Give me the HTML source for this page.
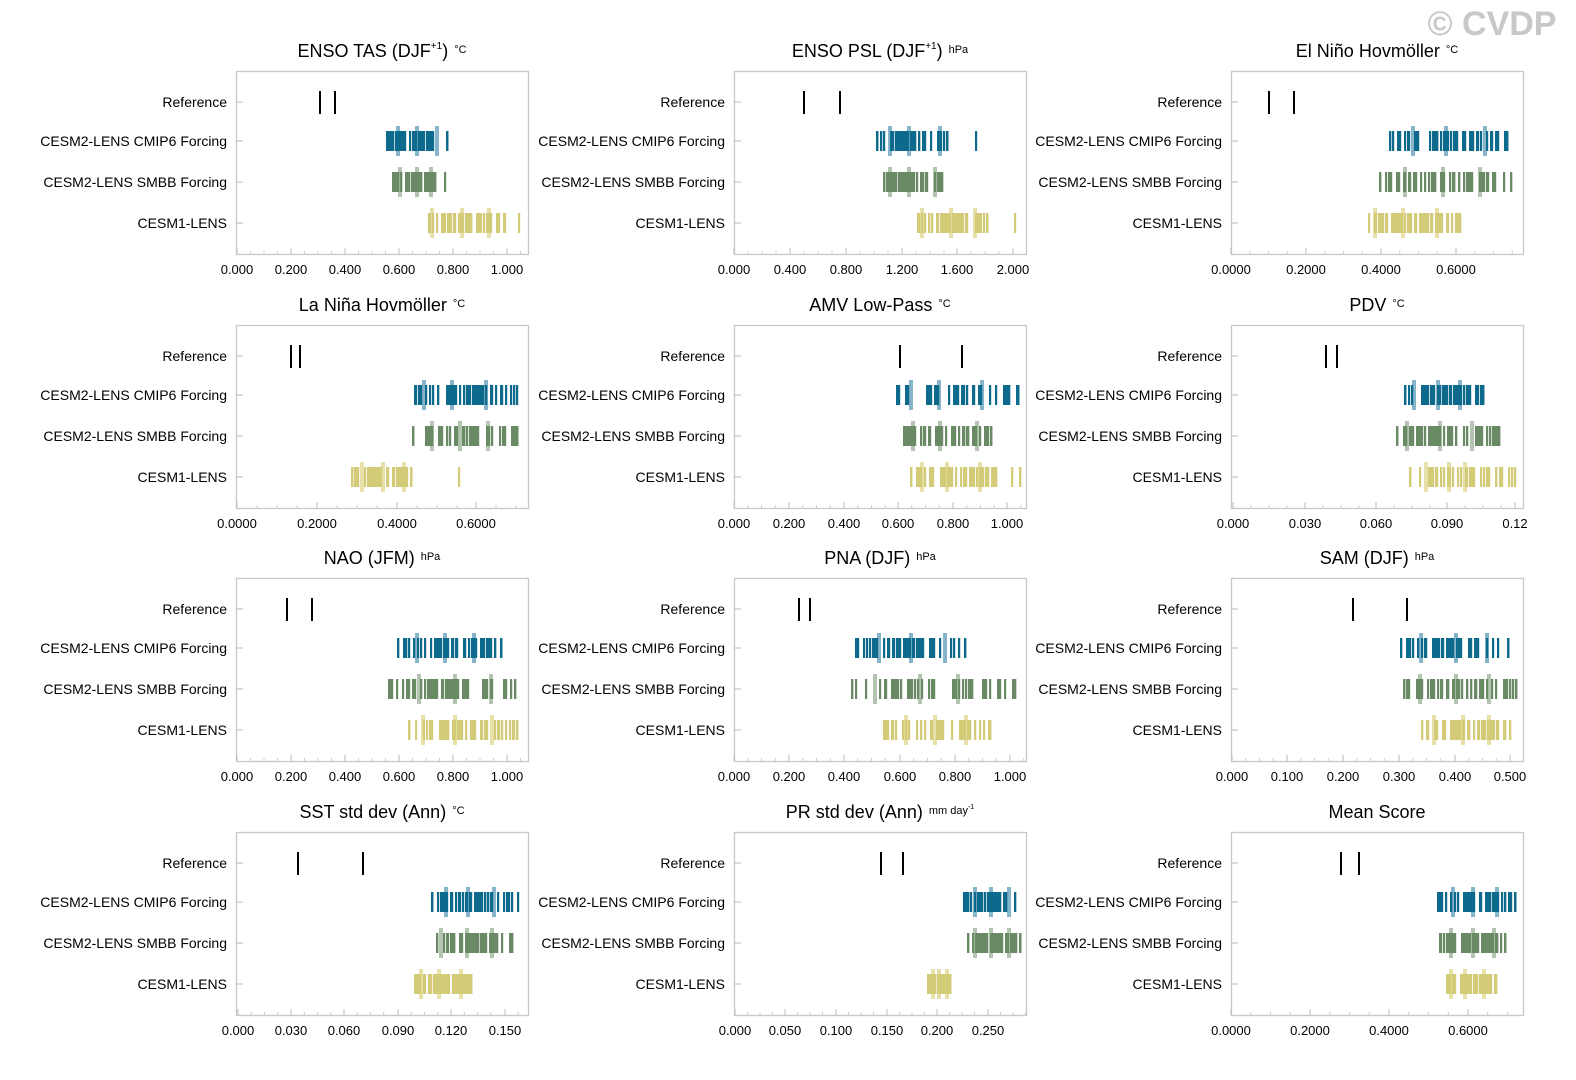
<!DOCTYPE html>
<html><head><meta charset="utf-8"><style>
html,body{margin:0;padding:0;background:#fff;overflow:hidden;width:1576px;height:1080px;}
svg{display:block;font-family:"Liberation Sans",Arial,sans-serif;overflow:hidden;}
</style></head><body>
<svg id="s" width="1576" height="1080" xmlns="http://www.w3.org/2000/svg"></svg>
<script>
var S=document.getElementById('s');var out='';
var seed=12345;function rnd(){seed=(seed*16807)%2147483647;return (seed-1)/2147483646;}
var colL=[236,734,1231],rowT=[71,325,578,832],W=292,H=183;
var P=[
{t:'ENSO TAS (DJF',sup:'+1',t2:')',u:'°C',ax:[['0.000',237],['0.200',291],['0.400',345],['0.600',399],['0.800',453],['1.000',507]],ref:[320,335],g:[[387,447,[398,417,437]],[393,435,[400,417,431],[445]],[429,505,[432,462,489],[519]]]},
{t:'ENSO PSL (DJF',sup:'+1',t2:')',u:'hPa',ax:[['0.000',734],['0.400',790],['0.800',846],['1.200',902],['1.600',957],['2.000',1013]],ref:[804,840],g:[[877,947,[890,909,940],[976]],[884,942,[890,909,935]],[918,987,[922,951,975],[1015]]]},
{t:'El Niño Hovmöller',u:'°C',ax:[['0.0000',1231],['0.2000',1306],['0.4000',1381],['0.6000',1456]],ref:[1269,1294],g:[[1390,1507,[1413,1446,1485]],[1380,1511,[1405,1443,1480]],[1369,1460,[1375,1403,1437]]]},
{t:'La Niña Hovmöller',u:'°C',ax:[['0.0000',237],['0.2000',317],['0.4000',397],['0.6000',476]],ref:[291,300],g:[[415,517,[424,452,486]],[413,517,[432,460,488]],[352,411,[362,383,404],[459]]]},
{t:'AMV Low-Pass',u:'°C',ax:[['0.000',734],['0.200',789],['0.400',844],['0.600',898],['0.800',953],['1.000',1007]],ref:[900,962],g:[[897,1018,[911,939,982]],[904,991,[913,940,977]],[911,1020,[922,947,980]]]},
{t:'PDV',u:'°C',ax:[['0.000',1233],['0.030',1305],['0.060',1376],['0.090',1447],['0.12',1515]],ref:[1326,1337],g:[[1405,1483,[1414,1438,1460]],[1397,1499,[1407,1440,1472]],[1410,1515,[1426,1449,1465]]]},
{t:'NAO (JFM)',u:'hPa',ax:[['0.000',237],['0.200',291],['0.400',345],['0.600',399],['0.800',453],['1.000',507]],ref:[287,312],g:[[398,501,[417,445,474]],[389,515,[419,455,491]],[409,517,[423,455,492]]]},
{t:'PNA (DJF)',u:'hPa',ax:[['0.000',734],['0.200',789],['0.400',844],['0.600',900],['0.800',955],['1.000',1010]],ref:[799,810],g:[[856,965,[879,911,945]],[852,1015,[875,920,958]],[884,990,[906,935,966]]]},
{t:'SAM (DJF)',u:'hPa',ax:[['0.000',1232],['0.100',1287],['0.200',1343],['0.300',1399],['0.400',1455],['0.500',1510]],ref:[1353,1407],g:[[1401,1508,[1421,1456,1487]],[1404,1516,[1420,1456,1489]],[1422,1510,[1434,1463,1489]]]},
{t:'SST std dev (Ann)',u:'°C',ax:[['0.000',238],['0.030',291],['0.060',344],['0.090',398],['0.120',451],['0.150',505]],ref:[298,363],g:[[432,518,[446,468,494]],[437,512,[441,467,492]],[415,471,[421,439,461]]]},
{t:'PR std dev (Ann)',u:'mm day',usup:'-1',ax:[['0.000',735],['0.050',785],['0.100',836],['0.150',887],['0.200',937],['0.250',988]],ref:[881,903],g:[[964,1015,[975,991,1009]],[968,1020,[975,991,1009]],[928,950,[933,939,947]]]},
{t:'Mean Score',u:'',ax:[['0.0000',1231],['0.2000',1310],['0.4000',1389],['0.6000',1468]],ref:[1341,1359],g:[[1438,1515,[1453,1473,1497]],[1440,1505,[1451,1473,1494]],[1447,1496,[1451,1465,1484]]]}
];
var cols=['#0d6a8c','#6a8a66','#d3cb78'],light=['#86b4c9','#b3c4b0','#e7e0a8'];
var labels=['Reference','CESM2-LENS CMIP6 Forcing','CESM2-LENS SMBB Forcing','CESM1-LENS'];
var offs=[31,70,111,152];
P.forEach(function(p,i){
 var L=colL[i%3],T=rowT[Math.floor(i/3)],B=T+H,cx=L+146;
 var tt='<text x="'+cx+'" y="'+(T-14)+'" font-size="18" text-anchor="middle" fill="#000">'+p.t;
 if(p.sup)tt+='<tspan font-size="10" dy="-8">'+p.sup+'</tspan><tspan dy="8">'+p.t2+'</tspan>';
 if(p.u){tt+='<tspan font-size="11" dx="6" dy="-4">'+p.u+'</tspan>';if(p.usup)tt+='<tspan font-size="7" dy="-5">'+p.usup+'</tspan>';}
 tt+='</text>';out+=tt;
 out+='<rect x="'+(L+0.5)+'" y="'+(T+0.5)+'" width="'+W+'" height="'+H+'" fill="none" stroke="#c8c8c8" stroke-width="1.3"/>';
 for(var k=0;k<4;k++){var y=T+offs[k];
  out+='<text x="'+(L-9)+'" y="'+(y+5)+'" font-size="14" text-anchor="end" fill="#000">'+labels[k]+'</text>';
  out+='<line x1="'+L+'" x2="'+(L+7)+'" y1="'+y+'" y2="'+y+'" stroke="#bbb" stroke-width="1"/>';}
 var a=p.ax,step=a.length>1?(a[1][1]-a[0][1]):50;
 a.forEach(function(v){out+='<text x="'+v[1]+'" y="'+(B+20)+'" font-size="13" text-anchor="middle" fill="#000">'+v[0]+'</text>';
  out+='<line x1="'+v[1]+'" x2="'+v[1]+'" y1="'+B+'" y2="'+(B-6)+'" stroke="#bbb"/>';
  for(var m=1;m<4;m++){var xx=v[1]+step*m/4;if(xx<L+W)out+='<line x1="'+xx+'" x2="'+xx+'" y1="'+B+'" y2="'+(B-3)+'" stroke="#ccc"/>';}});
 p.ref.forEach(function(x){out+='<line x1="'+x+'" x2="'+x+'" y1="'+(T+20)+'" y2="'+(T+43)+'" stroke="#000" stroke-width="2"/>';});
 for(var g=0;g<3;g++){var d=p.g[g],y=T+offs[g+1],lo=d[0],hi=d[1];
  d[2].forEach(function(x){out+='<rect x="'+(x-2)+'" y="'+(y-15)+'" width="4" height="30" fill="'+light[g]+'"/>';});
  var xs=[lo,hi];for(var n=0;n<48;n++){var r=(rnd()+rnd())/2;var x=lo+(hi-lo)*(0.5+(r-0.5)*1.5);x=Math.max(lo,Math.min(hi,x));xs.push(x);}
  if(d[3])d[3].forEach(function(x){xs.push(x);});
  xs.forEach(function(x){x=Math.round(x);out+='<rect x="'+(x-1)+'" y="'+(y-10)+'" width="2.2" height="20" fill="'+cols[g]+'"/>';});
 }
});
out+='<text x="1492" y="35" font-size="34" font-weight="bold" text-anchor="middle" fill="#c8c8c8">© CVDP</text>';
S.innerHTML=out;
</script>
</body></html>
